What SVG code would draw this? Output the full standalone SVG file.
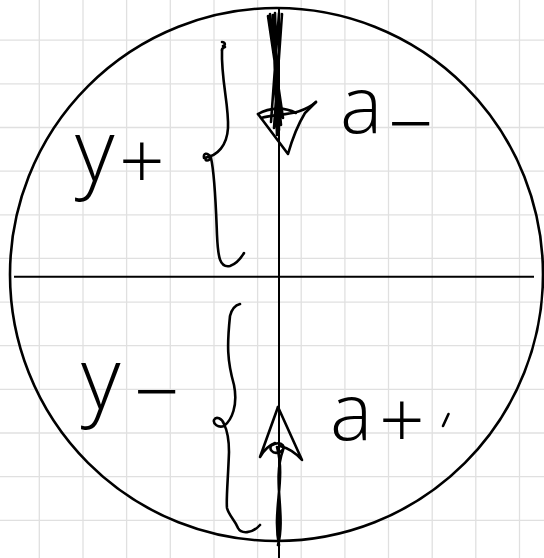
<svg xmlns="http://www.w3.org/2000/svg" width="544" height="558" viewBox="0 0 544 558">
<style>
.grid line{stroke:#e0e0e0;stroke-width:1.3}
.ink{fill:none;stroke:#000;stroke-width:2.6;stroke-linecap:round;stroke-linejoin:round}
.axis{fill:none;stroke:#000;stroke-width:2}
.lbl{font-family:"Open Sans","DejaVu Sans",sans-serif;font-weight:300;font-size:80px;fill:#000}
.big{font-size:86px}
</style>
<rect width="544" height="558" fill="#fff"/>
<g id="grid" class="grid">
<line x1="39.3" y1="0" x2="39.3" y2="558"/><line x1="83" y1="0" x2="83" y2="558"/><line x1="126.6" y1="0" x2="126.6" y2="558"/><line x1="170.3" y1="0" x2="170.3" y2="558"/><line x1="214" y1="0" x2="214" y2="558"/><line x1="257.6" y1="0" x2="257.6" y2="558"/><line x1="301.2" y1="0" x2="301.2" y2="558"/><line x1="344.9" y1="0" x2="344.9" y2="558"/><line x1="388.5" y1="0" x2="388.5" y2="558"/><line x1="432.2" y1="0" x2="432.2" y2="558"/><line x1="475.8" y1="0" x2="475.8" y2="558"/><line x1="519.5" y1="0" x2="519.5" y2="558"/>
<line x1="0" y1="40.2" x2="544" y2="40.2"/><line x1="0" y1="83.8" x2="544" y2="83.8"/><line x1="0" y1="127.5" x2="544" y2="127.5"/><line x1="0" y1="171.1" x2="544" y2="171.1"/><line x1="0" y1="214.8" x2="544" y2="214.8"/><line x1="0" y1="258.4" x2="544" y2="258.4"/><line x1="0" y1="302.1" x2="544" y2="302.1"/><line x1="0" y1="345.7" x2="544" y2="345.7"/><line x1="0" y1="389.4" x2="544" y2="389.4"/><line x1="0" y1="433" x2="544" y2="433"/><line x1="0" y1="476.7" x2="544" y2="476.7"/><line x1="0" y1="520.3" x2="544" y2="520.3"/>
</g>
<g id="circle"><circle cx="276.5" cy="274.5" r="266.5" class="ink" stroke-width="2.4"/></g>
<g id="axes">
<line x1="14" y1="276.7" x2="534" y2="276.7" class="axis"/>
<line x1="279" y1="8" x2="279" y2="558" class="axis"/>
</g>
<g id="connectors">
<g id="arrow-down" class="ink">
<path d="M270,14 L281,125 M275,13 L279,130 M282,14 L274,128 M268,16 L283,118 M273,15 L277,135 M279,13 L271,122"/>
<path d="M258,114 L288,154 C292,140 297,126 305,113 L316,102"/>
<path d="M258,114 C270,107 285,107 296,113 M261,118 C280,113 300,116 316,102"/>
</g>
<g id="arrow-up" class="ink">
<path d="M278,407 L260,457 C265,448 270,445 275,443"/>
<path d="M278,407 L302,460 C295,452 288,448 280,446"/>
<path d="M272,445 C282,440 288,448 280,452 C272,455 268,448 272,445"/>
<path d="M277,447 C286,480 272,510 279,545 M283,450 C272,480 286,515 278,545"/>
</g>
</g>
<g id="brace-top" class="ink">
<path d="M222,42 C225,42 226,45 223,46 M225,47 C222,48 222,50 222,50"/>
<path d="M222,50 C221,80 229,105 228,128 C227,145 218,156 204,158 C203,153 207,152 211,157 C209,162 204,161 206,158"/>
<path d="M211,158 C215,175 216,210 217,235 C218,258 220,268 230,266 C236,264 241,258 244,253"/>
</g>
<g id="brace-bottom" class="ink">
<path d="M240,304 C236,305 232,308 230,316 C227,345 227,360 234,385 C238,405 232,420 224,426 C218,428 213,424 214,420 C216,416 222,418 224,424 C228,432 229,440 229,452 C228,480 226,500 227,508 C229,516 235,520 238,528 C241,534 252,534 260,525"/>
</g>
<g id="label-y-plus"><text class="lbl" x="75" y="182"><tspan class="big">y</tspan><tspan x="119" y="189">+</tspan></text></g>
<g id="label-a-minus"><text class="lbl" x="340" y="133">a<tspan x="388" y="152">−</tspan></text></g>
<g id="label-y-minus"><text class="lbl" x="81" y="410"><tspan class="big">y</tspan><tspan x="134" y="420">−</tspan></text></g>
<g id="label-a-plus"><text class="lbl" x="330" y="440">a<tspan x="379" y="448">+</tspan></text>
<path d="M443,426 L448.5,414" class="ink"/></g>
</svg>
